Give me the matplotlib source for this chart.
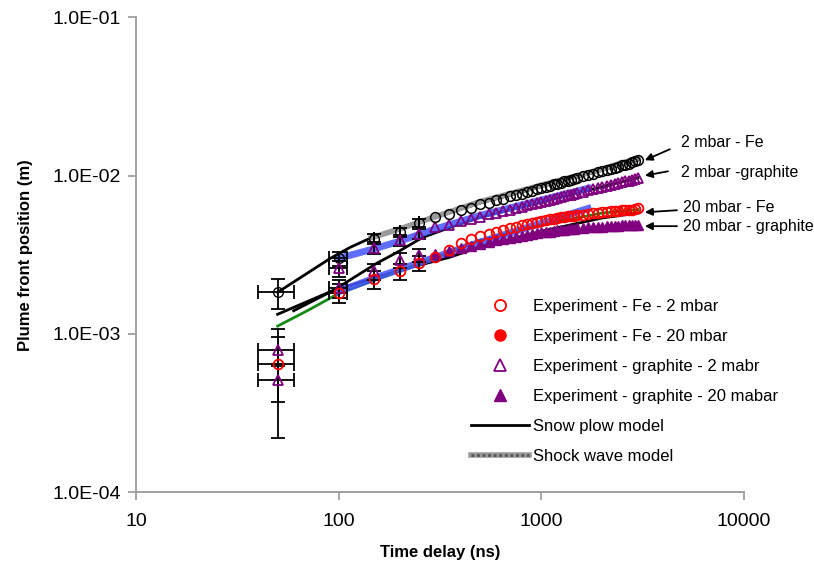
import numpy as np
import matplotlib.pyplot as plt
from matplotlib.lines import Line2D
from matplotlib.ticker import FixedLocator, FixedFormatter, NullLocator

plt.rcParams['font.family'] = ['Liberation Sans', 'DejaVu Sans']

# ---------------- data (time in ns, position in mm -> converted to m) ----------------
# early points with error bars
t_early = [50, 100, 150, 200, 250]
xerr_early = [10, 10, 0, 0, 0]

fe2_early = [1.83, 3.00, 4.00, 4.38, 5.00]
fe2_err = [0.40, 0.30, 0.30, 0.30, 0.30]
gr2_early = [0.79, 2.60, 3.48, 3.90, 4.30]
gr2_err = [0.16, 0.30, 0.30, 0.30, 0.30]
fe20_early = [0.65, 1.81, 2.21, 2.48, 2.80]
fe20_err = [0.43, 0.25, 0.30, 0.30, 0.30]
gr20_early = [0.51, 1.94, 2.48, 2.92, 3.16]
gr20_err = [0.14, 0.25, 0.30, 0.30, 0.30]

# dense streak-camera points
t_dense = [300, 350, 400, 450, 500, 550, 600, 650, 700, 750, 800, 850, 900, 950,
           1000, 1050, 1100, 1150, 1200, 1250, 1300, 1350, 1400, 1450, 1500,
           1600, 1700, 1800, 1900, 2000, 2100, 2200, 2300, 2400, 2500, 2600,
           2700, 2800, 2900, 3000]
fe2_dense = [5.50, 5.70, 6.10, 6.20, 6.60, 6.70, 7.00, 7.10, 7.40, 7.50, 7.70, 7.90,
             8.00, 8.20, 8.30, 8.50, 8.60, 8.80, 8.90, 9.00, 9.20, 9.30, 9.40, 9.50,
             9.70, 9.90, 10.1, 10.3, 10.5, 10.7, 10.9, 11.0, 11.2, 11.4, 11.6, 11.7,
             11.9, 12.1, 12.3, 12.5]
gr2_dense = [4.70, 4.90, 5.15, 5.30, 5.50, 5.70, 5.80, 6.00, 6.10, 6.25, 6.35, 6.50,
             6.60, 6.70, 6.85, 6.90, 7.05, 7.10, 7.25, 7.30, 7.40, 7.50, 7.55, 7.70,
             7.75, 7.90, 8.05, 8.20, 8.30, 8.45, 8.60, 8.70, 8.85, 8.95, 9.10, 9.20,
             9.30, 9.40, 9.50, 9.60]
fe20_dense = [3.05, 3.40, 3.75, 3.95, 4.15, 4.30, 4.40, 4.55, 4.65, 4.75, 4.85, 4.95,
              5.05, 5.10, 5.20, 5.25, 5.30, 5.35, 5.40, 5.45, 5.50, 5.52, 5.55, 5.58,
              5.60, 5.65, 5.72, 5.78, 5.82, 5.86, 5.90, 5.93, 5.96, 6.00, 6.02, 6.05,
              6.08, 6.10, 6.15, 6.20]
gr20_dense = [3.20, 3.35, 3.48, 3.60, 3.72, 3.80, 3.90, 3.98, 4.05, 4.10, 4.15, 4.22,
              4.28, 4.33, 4.38, 4.40, 4.43, 4.46, 4.50, 4.52, 4.55, 4.57, 4.60, 4.62,
              4.64, 4.67, 4.70, 4.72, 4.74, 4.76, 4.78, 4.80, 4.81, 4.83, 4.84, 4.85,
              4.86, 4.87, 4.88, 4.90]

# model curves
snow1_t = [50, 91, 114, 143, 200, 300, 500, 1000, 2000, 3000]
snow1_r = [1.83, 3.00, 3.52, 4.02, 4.55, 5.45, 6.70, 8.50, 10.8, 12.5]
shock1_t = [145, 200, 300, 500, 1000, 2000, 3000]
shock1_r = [4.05, 4.60, 5.50, 6.85, 8.70, 11.0, 12.9]
snow2_t = [50, 94, 154, 194, 260, 354, 500, 1000, 2000, 3000]
snow2_r = [1.33, 1.88, 2.79, 3.27, 4.07, 4.70, 5.45, 6.80, 8.50, 9.70]
snow3_t = [60, 94, 200, 354, 500, 1000, 2000, 3000]
snow3_r = [1.40, 1.88, 2.52, 3.05, 3.55, 4.45, 5.40, 5.80]
blue1_t = [100, 150, 200, 300, 500, 1000, 1700]
blue1_r = [3.00, 3.45, 3.85, 4.60, 5.60, 7.00, 8.30]
blue2_t = [100, 150, 200, 300, 500, 1000, 1700]
blue2_r = [1.85, 2.25, 2.55, 3.05, 3.80, 5.00, 6.20]
green_t = [50, 70, 100, 200, 500, 1000, 2000, 3000]
green_r = [1.12, 1.40, 1.80, 2.50, 3.90, 4.90, 5.80, 6.10]

labels = ['Experiment - Fe - 2 mbar', 'Experiment - Fe - 20 mbar',
          'Experiment - graphite - 2 mabr', 'Experiment - graphite - 20 mabar',
          'Snow plow model', 'Shock wave model']

y_ticks = [1e-4, 1e-3, 1e-2, 1e-1]
y_ticklabels = ['1.0E-04', '1.0E-03', '1.0E-02', '1.0E-01']
x_ticks = [10, 100, 1000, 10000]
x_ticklabels = ['10', '100', '1000', '10000']

mm = 1e-3
PURPLE = '#800080'
RED = '#ff0000'

fig = plt.figure(figsize=(8.14, 5.75), dpi=100)
ax = fig.add_axes([0.167, 0.144, 0.747, 0.826])
ax.set_xscale('log')
ax.set_yscale('log')

# model lines
ax.plot(snow3_t, np.array(snow3_r) * mm, color='black', lw=2, zorder=2)
ax.plot(green_t, np.array(green_r) * mm, color='#158a15', lw=2, zorder=2)
ax.plot(blue2_t, np.array(blue2_r) * mm, color='#4455ff', lw=5, alpha=0.85, zorder=2)
ax.plot(snow2_t, np.array(snow2_r) * mm, color='black', lw=2, zorder=2)
ax.plot(blue1_t, np.array(blue1_r) * mm, color='#4455ff', lw=5, alpha=0.85, zorder=2)
ax.plot(snow1_t, np.array(snow1_r) * mm, color='black', lw=2, zorder=2)
ax.plot(shock1_t, np.array(shock1_r) * mm, color='#999999', lw=4, zorder=2)

# dense experimental points
ax.plot(t_dense, np.array(gr20_dense) * mm, ls='none', marker='^', ms=7,
        mfc=PURPLE, mec=PURPLE, zorder=3)
ax.plot(t_dense, np.array(fe20_dense) * mm, ls='none', marker='o', ms=7,
        mfc='none', mec=RED, mew=1.3, zorder=4)
ax.plot(t_dense, np.array(gr2_dense) * mm, ls='none', marker='^', ms=7,
        mfc='none', mec=PURPLE, mew=1.3, zorder=3)
ax.plot(t_dense, np.array(fe2_dense) * mm, ls='none', marker='o', ms=7,
        mfc='none', mec='black', mew=1.1, zorder=3)

# early points with error bars
ebkw = dict(ls='none', ms=7, ecolor='black', elinewidth=1.3, capsize=5,
            capthick=1.3, zorder=5)
ax.errorbar(t_early, np.array(fe2_early) * mm, yerr=np.array(fe2_err) * mm,
            xerr=xerr_early, marker='o', mfc='none', mec='black', **ebkw)
ax.errorbar(t_early, np.array(gr2_early) * mm, yerr=np.array(gr2_err) * mm,
            xerr=xerr_early, marker='^', mfc='none', mec=PURPLE, mew=1.3, **ebkw)
ax.errorbar(t_early, np.array(gr20_early) * mm, yerr=np.array(gr20_err) * mm,
            xerr=xerr_early, marker='^', mfc='none', mec=PURPLE, mew=1.3, **ebkw)
ax.errorbar(t_early, np.array(fe20_early) * mm, yerr=np.array(fe20_err) * mm,
            xerr=xerr_early, marker='o', mfc='none', mec=RED, mew=1.3, **ebkw)

# annotations
notes = [('2 mbar - Fe', (4890, 1.62e-2), (4305, 1.466e-2), (3243, 1.25e-2)),
         ('2 mbar -graphite', (4890, 1.05e-2), (4218, 1.064e-2), (3243, 1.0e-2)),
         ('20 mbar - Fe', (5000, 6.31e-3), (4670, 6.04e-3), (3243, 5.86e-3)),
         ('20 mbar - graphite', (5000, 4.79e-3), (4670, 4.79e-3), (3243, 4.79e-3))]
for txt, pos, tail, head in notes:
    ax.text(pos[0], pos[1], txt, fontsize=11.5, ha='left', va='center')
    ax.annotate('', xy=head, xytext=tail,
                arrowprops=dict(arrowstyle='-|>', color='black', lw=1.3,
                                mutation_scale=11, shrinkA=0, shrinkB=0))

# legend
handles = [
    Line2D([], [], ls='none', marker='o', ms=8, mfc='none', mec=RED, mew=1.3),
    Line2D([], [], ls='none', marker='o', ms=8, mfc=RED, mec=RED),
    Line2D([], [], ls='none', marker='^', ms=8, mfc='none', mec=PURPLE, mew=1.3),
    Line2D([], [], ls='none', marker='^', ms=8, mfc=PURPLE, mec=PURPLE),
    Line2D([], [], color='black', lw=2),
    (Line2D([], [], color='#999999', lw=4),
     Line2D([], [], color='#555555', lw=2, ls=(0, (1, 1)))),
]
ax.legend(handles, labels, loc='upper left', bbox_to_anchor=(0.551, 0.407),
          frameon=False, fontsize=12, handlelength=3.5, handletextpad=0.25,
          labelspacing=0.9, borderpad=0, borderaxespad=0)

# axes styling
ax.set_xlim(10, 10000)
ax.set_ylim(1e-4, 1e-1)
ax.xaxis.set_major_locator(FixedLocator(x_ticks))
ax.xaxis.set_major_formatter(FixedFormatter(x_ticklabels))
ax.yaxis.set_major_locator(FixedLocator(y_ticks))
ax.yaxis.set_major_formatter(FixedFormatter(y_ticklabels))
ax.xaxis.set_minor_locator(NullLocator())
ax.yaxis.set_minor_locator(NullLocator())
for side in ['top', 'right']:
    ax.spines[side].set_visible(False)
for side in ['left', 'bottom']:
    ax.spines[side].set_color('#a0a0a0')
    ax.spines[side].set_linewidth(1.4)
ax.tick_params(axis='both', direction='out', length=6, width=1.3,
               color='#a0a0a0', labelsize=14)
ax.tick_params(axis='x', pad=9)
ax.tick_params(axis='y', pad=5)

ax.set_xlabel('Time delay (ns)', fontsize=12, fontweight='bold', labelpad=11)
ax.set_ylabel('Plume front position (m)', fontsize=12, fontweight='bold', labelpad=14)

fig.savefig('out.png', dpi=100)
